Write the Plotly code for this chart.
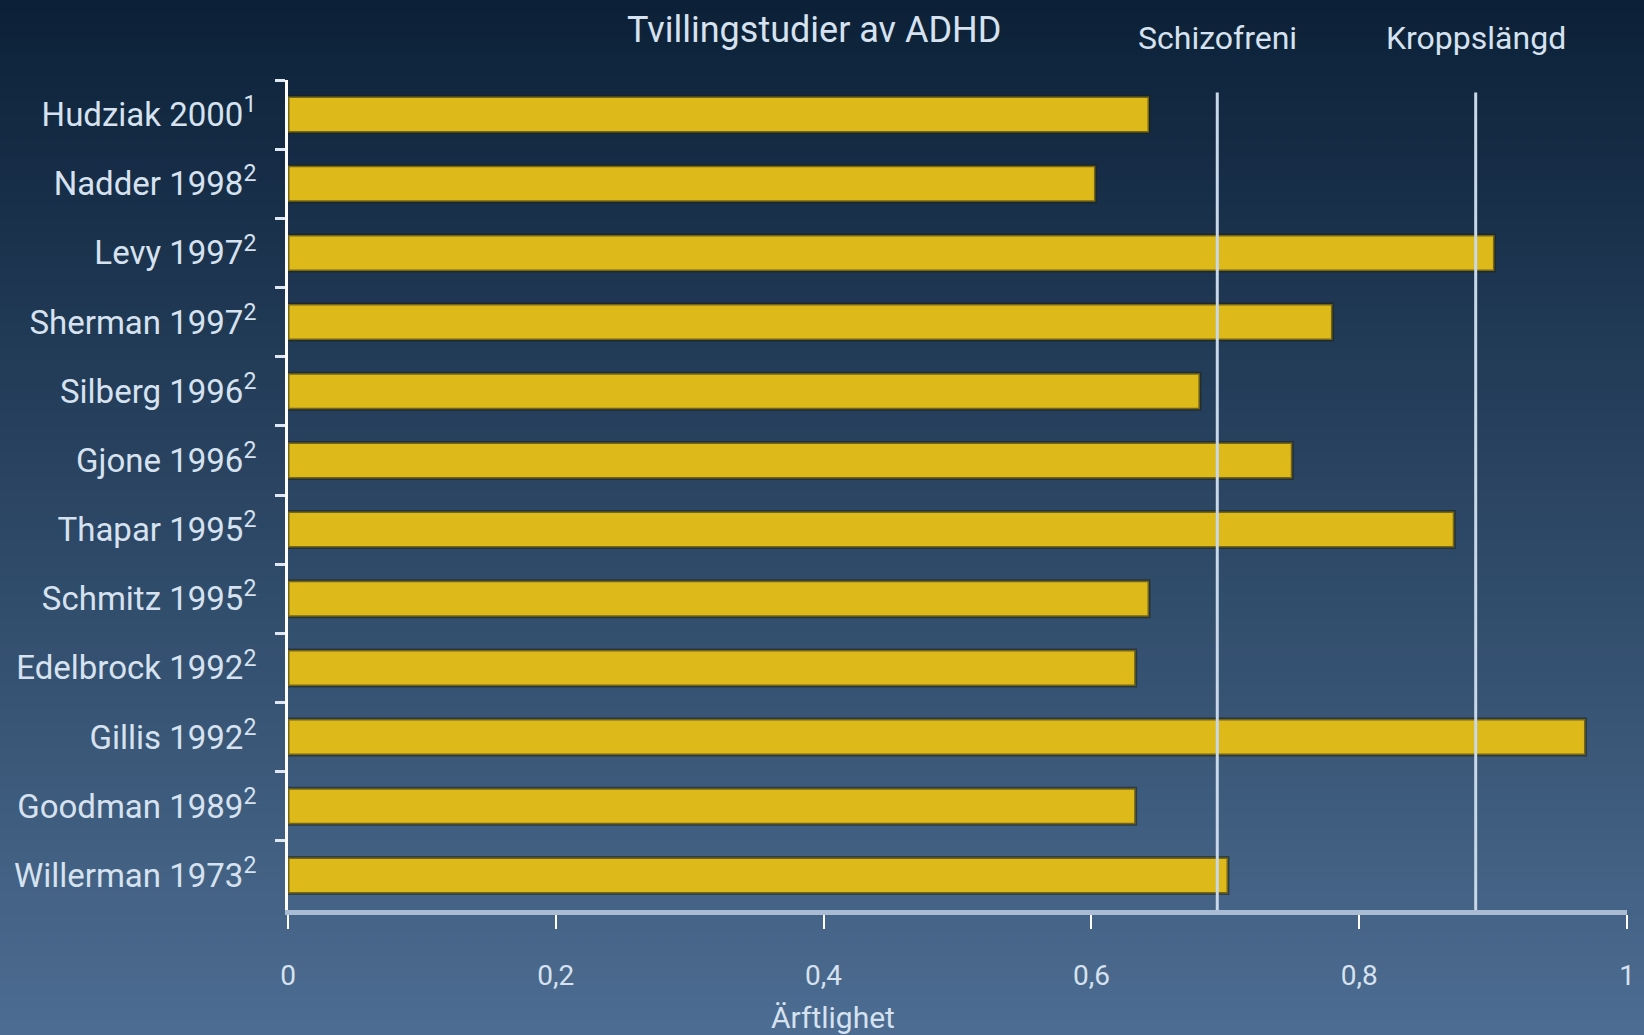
import plotly.graph_objects as go

# data, top to bottom
studies = [
    "Hudziak 2000<sup>1</sup>", "Nadder 1998<sup>2</sup>", "Levy 1997<sup>2</sup>",
    "Sherman 1997<sup>2</sup>", "Silberg 1996<sup>2</sup>", "Gjone 1996<sup>2</sup>",
    "Thapar 1995<sup>2</sup>", "Schmitz 1995<sup>2</sup>", "Edelbrock 1992<sup>2</sup>",
    "Gillis 1992<sup>2</sup>", "Goodman 1989<sup>2</sup>", "Willerman 1973<sup>2</sup>",
]
heritability = [0.643, 0.603, 0.901, 0.780, 0.681, 0.750, 0.871, 0.643, 0.633, 0.969, 0.633, 0.702]

ref_labels = ["Schizofreni", "Kroppslängd"]
ref_values = [0.694, 0.887]

x_ticks = [0, 0.2, 0.4, 0.6, 0.8, 1]
x_ticktext = ["0", "0,2", "0,4", "0,6", "0,8", "1"]

FONT = "Liberation Sans Narrow, Roboto, sans-serif"
TEXT = "#d6e2ef"

fig = go.Figure(go.Bar(
    x=heritability,
    y=studies,
    orientation="h",
    marker=dict(color="#DEB91A", line=dict(color="rgba(30,35,20,0.55)", width=3)),
))

# background gradient, dark navy at top to steel blue at bottom
top_rgb = (12, 33, 56)
bot_rgb = (76, 108, 145)
n = 80
shapes = []
y_lo, y_hi = -125 / 830, 1 + 80 / 830
for i in range(n):
    t = i / (n - 1)
    c = tuple(round(a + (b - a) * t) for a, b in zip(top_rgb, bot_rgb))
    y1 = y_hi - (y_hi - y_lo) * i / n
    y0 = y_hi - (y_hi - y_lo) * (i + 1) / n
    shapes.append(dict(
        type="rect", xref="paper", yref="paper", x0=-0.3, x1=1.1, y0=y0 - 0.002, y1=y1 + 0.002,
        fillcolor="rgb(%d,%d,%d)" % c, line=dict(width=0), layer="below",
    ))

for v in ref_values:
    shapes.append(dict(
        type="line", xref="x", yref="paper", x0=v, x1=v, y0=0, y1=0.985,
        line=dict(color="#c9d8e8", width=3), layer="above",
    ))

annotations = [
    dict(text=lab, x=v, xref="x", y=1.05, yref="paper", showarrow=False,
         font=dict(family=FONT, size=32, color=TEXT), xanchor="center", yanchor="middle")
    for lab, v in zip(ref_labels, ref_values)
]
annotations.append(dict(
    text="Ärftlighet", x=0.407, xref="paper", y=-0.13, yref="paper", showarrow=False,
    font=dict(family=FONT, size=30, color=TEXT), xanchor="center", yanchor="middle",
))

fig.update_layout(
    width=1644,
    height=1035,
    margin=dict(l=288, r=9, t=80, b=125),
    paper_bgcolor="#2c4a6c",
    plot_bgcolor="rgba(0,0,0,0)",
    showlegend=False,
    bargap=0.48,
    shapes=shapes,
    annotations=annotations,
    title=dict(
        text="Tvillingstudier av ADHD", x=0.393, xref="paper", xanchor="center",
        y=1 - 29 / 1035, yanchor="middle",
        font=dict(family=FONT, size=36, color=TEXT),
    ),
    xaxis=dict(
        range=[0, 1],
        tickvals=x_ticks,
        ticktext=x_ticktext,
        showgrid=False,
        zeroline=False,
        showline=True,
        linecolor="#a9bcd3",
        linewidth=5,
        ticks="outside",
        ticklen=14,
        tickwidth=2,
        tickcolor="#ffffff",
        ticklabelstandoff=22,
        tickfont=dict(family=FONT, size=28, color=TEXT),
    ),
    yaxis=dict(
        categoryorder="array",
        categoryarray=studies,
        autorange="reversed",
        showgrid=False,
        zeroline=False,
        showline=True,
        linecolor="#ffffff",
        linewidth=3,
        ticks="outside",
        tickson="boundaries",
        ticklen=10,
        tickwidth=3,
        tickcolor="#dfe8f2",
        ticklabelstandoff=22,
        tickfont=dict(family=FONT, size=33, color=TEXT),
    ),
)

fig.write_html(
    "out.html",
    config={"displayModeBar": False},
    post_script="document.body.style.margin='0';",
)
